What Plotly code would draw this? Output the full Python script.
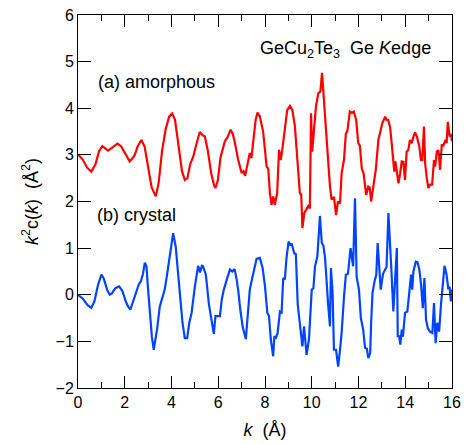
import plotly.graph_objects as go

# Ge K-edge EXAFS oscillations k^2 chi(k) for GeCu2Te3 (amorphous offset by +3)
k_amorphous = [
    0.0, 0.2, 0.4, 0.57, 0.75, 0.9, 1.04, 1.18, 1.29, 1.45, 1.69, 1.85, 2.0, 2.21,
    2.32, 2.43, 2.55, 2.71, 2.85, 3.0, 3.15, 3.33, 3.45, 3.6, 3.75, 3.9, 4.03, 4.15,
    4.3, 4.45, 4.57, 4.68, 4.8, 4.93, 5.05, 5.21, 5.32, 5.43, 5.55, 5.7, 5.82, 5.88,
    5.98, 6.1, 6.28, 6.4, 6.53, 6.62, 6.7, 6.85, 7.0, 7.08, 7.15, 7.25, 7.35, 7.42,
    7.5, 7.6, 7.68, 7.78, 7.92, 8.07, 8.14, 8.21, 8.28, 8.35, 8.42, 8.52, 8.6, 8.67,
    8.74, 8.85, 8.95, 9.07, 9.17, 9.28, 9.42, 9.49, 9.55, 9.6, 9.68, 9.77, 9.85, 9.92,
    9.97, 10.02, 10.11, 10.18, 10.28, 10.37, 10.44, 10.5, 10.64, 10.78, 10.85, 10.95,
    11.04, 11.12, 11.21, 11.28, 11.38, 11.46, 11.52, 11.63, 11.72, 11.8, 11.9, 11.99,
    12.06, 12.14, 12.22, 12.33, 12.42, 12.48, 12.54, 12.64, 12.74, 12.85, 12.96, 13.02,
    13.14, 13.2, 13.27, 13.35, 13.42, 13.5, 13.53, 13.58, 13.63, 13.71, 13.78, 13.85,
    13.92, 13.99, 14.06, 14.13, 14.2, 14.28, 14.35, 14.42, 14.5, 14.6, 14.67, 14.73,
    14.8, 14.85, 14.92, 14.99, 15.06, 15.15, 15.23, 15.28, 15.35, 15.42, 15.49, 15.56,
    15.63, 15.72, 15.77, 15.82, 15.9, 15.95, 16.0,
]
chi_amorphous = [
    3.01, 2.9, 2.72, 2.64, 2.8, 3.08, 3.19, 3.13, 3.09, 3.15, 3.24, 3.18, 3.05, 2.86,
    2.92, 3.0, 3.18, 3.32, 3.18, 2.75, 2.3, 2.11, 2.4, 3.1, 3.55, 3.82, 3.89, 3.75,
    3.25, 2.65, 2.46, 2.5, 2.8, 2.96, 3.2, 3.49, 3.43, 3.39, 3.1, 2.6, 2.35, 2.29,
    2.45, 2.95, 3.29, 3.38, 3.54, 3.45, 3.29, 2.9, 2.61, 2.65, 2.55, 2.8, 3.04, 2.93,
    3.3, 3.75, 3.91, 3.82, 3.5, 2.75, 2.7, 2.18, 1.93, 2.11, 1.93, 2.18, 3.11, 2.89,
    3.11, 3.5, 3.96, 4.05, 3.96, 3.61, 2.75, 2.18, 2.15, 1.43, 1.75, 1.82, 1.9, 1.85,
    3.89, 3.07, 3.54, 4.04, 4.32, 4.36, 4.76, 4.32, 3.46, 2.32, 2.04, 2.1,
    1.71, 2.0, 1.96, 2.61, 2.9, 3.46, 3.5, 3.93, 3.9, 3.93, 3.75, 3.25,
    3.2, 2.71, 2.6, 2.14, 2.32, 2.3, 2.0, 2.32, 2.68, 3.32, 3.54, 3.68,
    3.82, 3.75, 3.75, 3.6, 3.25, 2.86, 2.64, 2.86, 2.7, 2.39, 2.6, 2.86,
    2.85, 2.46, 3.07, 3.1, 3.32, 3.25, 3.39, 3.48, 3.39, 3.18, 2.89, 2.89,
    3.61, 2.82, 2.5, 2.29, 2.36, 2.36, 2.89, 2.75, 3.07, 3.1, 2.68, 3.21,
    3.2, 3.32, 3.25, 3.71, 3.39, 3.45, 3.29,
]

k_crystal = [
    0.0, 0.2, 0.4, 0.57, 0.7, 0.85, 1.0, 1.1, 1.25, 1.36, 1.45, 1.6, 1.76, 1.9, 2.05,
    2.14, 2.24, 2.35, 2.5, 2.6, 2.69, 2.78, 2.86, 2.93, 3.0, 3.07, 3.16, 3.24, 3.32,
    3.38, 3.5, 3.6, 3.71, 3.8, 3.88, 3.98, 4.07, 4.18, 4.28, 4.36, 4.47, 4.57, 4.67,
    4.76, 4.86, 5.0, 5.14, 5.22, 5.3, 5.35, 5.47, 5.6, 5.72, 5.81, 5.88, 6.07, 6.15,
    6.24, 6.38, 6.5, 6.6, 6.7, 6.78, 6.85, 6.95, 7.05, 7.18, 7.27, 7.35, 7.45, 7.55,
    7.64, 7.78, 7.9, 8.0, 8.1, 8.17, 8.25, 8.35, 8.4, 8.47, 8.54, 8.64, 8.71, 8.78,
    8.85, 8.92, 9.01, 9.08, 9.15, 9.25, 9.32, 9.4, 9.5, 9.6, 9.67, 9.78, 9.88, 10.0,
    10.07, 10.14, 10.24, 10.35, 10.43, 10.5, 10.57, 10.64, 10.7, 10.78, 10.82, 10.89,
    10.95, 11.04, 11.13, 11.21, 11.28, 11.38, 11.46, 11.55, 11.66, 11.77, 11.85, 11.92,
    12.02, 12.1, 12.2, 12.28, 12.36, 12.42, 12.5, 12.54, 12.6, 12.7, 12.76, 12.82,
    12.89, 12.95, 13.05, 13.14, 13.2, 13.28, 13.35, 13.42, 13.49, 13.57, 13.64, 13.68,
    13.74, 13.79, 13.85, 13.9, 13.99, 14.09, 14.18, 14.25, 14.3, 14.35, 14.45, 14.52,
    14.6, 14.68, 14.75, 14.82, 14.89, 14.97, 15.06, 15.16, 15.23, 15.3, 15.37, 15.45,
    15.53, 15.59, 15.68, 15.76, 15.84, 15.9, 15.95, 16.0,
]
chi_crystal = [
    0.0, -0.08, -0.22, -0.28, -0.15, 0.2, 0.43, 0.35, 0.1, 0.0, 0.03, 0.14, 0.18, 0.08, -0.15,
    -0.25, -0.32, -0.15, 0.11, 0.22, 0.29, 0.45, 0.69, 0.6, 0.1, -0.39, -0.9, -1.18, -0.95,
    -0.75, -0.25, -0.1, 0.11, 0.4, 0.68, 1.05, 1.32, 1.03, 0.5, -0.04, -0.6, -0.93, -0.93,
    -0.6, -0.39, 0.18, 0.62, 0.48, 0.62, 0.61, 0.43, -0.2, -0.55, -0.84, -0.46, -0.46, -0.1,
    0.11, 0.35, 0.54, 0.5, 0.55, 0.35, 0.11, -0.35, -0.7, -0.95, -0.4, 0.11, 0.35, 0.6,
    0.77, 0.79, 0.57, 0.18, -0.39, -0.45, -0.96, -1.32, -0.89, -0.92, -0.82, -0.36, -0.38, 0.36,
    0.33, 0.79, 1.14, 1.07, 1.08, 0.89, 0.87, -0.21, -0.6, -1.11, -0.68, -1.29, -0.96, 0.11,
    0.14, 0.61, 0.82, 1.69, 1.11, 1.05, 0.79, 0.11, -0.2, -0.68, 0.57, 0.07,
    -1.18, -1.18, -1.54, -1.18, -0.8, -0.04, 0.43, 0.45, 1.0, 0.61, 2.07, 0.39,
    0.11, -0.5, -0.75, -1.14, -1.16, -1.36, -1.25, -0.61, 0.04, 0.32, 0.42, 1.11,
    0.55, 0.11, 0.45, 0.54, 0.6, 1.75, 0.9, 0.4, -0.36, 0.3, 1.0, -0.89,
    -0.89, -1.07, -0.75, -0.9, -0.39, -0.36, 0.11, 0.43, 0.11, 0.5, 0.71, 0.7,
    0.55, 0.2, -0.29, 0.36, -0.54, -0.72, -0.79, -0.82, -0.18, -1.04, -0.6, -0.79,
    -0.2, 0.18, 0.62, 0.45, 0.14, 0.15, -0.14, 0.11,
]

x_ticks = [0, 2, 4, 6, 8, 10, 12, 14, 16]
y_ticks = [-2, -1, 0, 1, 2, 3, 4, 5, 6]

FONT = "Liberation Sans, Arial, sans-serif"

fig = go.Figure()
fig.add_trace(go.Scatter(x=k_amorphous, y=chi_amorphous, mode="lines",
                         line=dict(color="#ff0000", width=2.2), name="amorphous"))
fig.add_trace(go.Scatter(x=k_crystal, y=chi_crystal, mode="lines",
                         line=dict(color="#0044ff", width=2.2), name="crystal"))

axis_common = dict(
    showline=True, linecolor="black", linewidth=1, mirror="ticks",
    ticks="inside", tickcolor="black", tickwidth=1,
    showgrid=False, zeroline=False, automargin=False,
    tickfont=dict(family=FONT, size=16, color="black"),
)

fig.update_xaxes(
    range=[0, 16], tickvals=x_ticks, ticklen=12,
    minor=dict(dtick=1, ticks="inside", ticklen=6, tickcolor="black", showgrid=False),
    title=dict(text="<i>k</i>\u00a0\u00a0(Å)", font=dict(family=FONT, size=18, color="black"),
               standoff=13),
    **axis_common,
)
fig.update_yaxes(
    range=[-2, 6], tickvals=y_ticks, ticklen=13,
    title=dict(text="<i>k</i><sup>2</sup>c(<i>k</i>)\u00a0\u00a0(Å<sup>2</sup>)",
               font=dict(family=FONT, size=18, color="black"), standoff=12),
    **axis_common,
)

label_font = dict(family=FONT, size=18, color="black")
fig.add_annotation(x=0.79, y=4.57, text="(a) amorphous", showarrow=False,
                   xanchor="left", yanchor="middle", font=label_font)
fig.add_annotation(x=0.71, y=1.71, text="(b) crystal", showarrow=False,
                   xanchor="left", yanchor="middle", font=label_font)
fig.add_annotation(x=15.2, y=5.27,
                   text="GeCu<sub>2</sub>Te<sub>3</sub>\u00a0\u00a0Ge <i>K</i>edge",
                   showarrow=False, xanchor="right", yanchor="middle", font=label_font)

fig.update_layout(
    width=466, height=444,
    margin=dict(l=78, r=14, t=15, b=56),
    paper_bgcolor="white", plot_bgcolor="white",
    showlegend=False,
    font=dict(family=FONT, color="black"),
)

fig.write_html("out.html")
